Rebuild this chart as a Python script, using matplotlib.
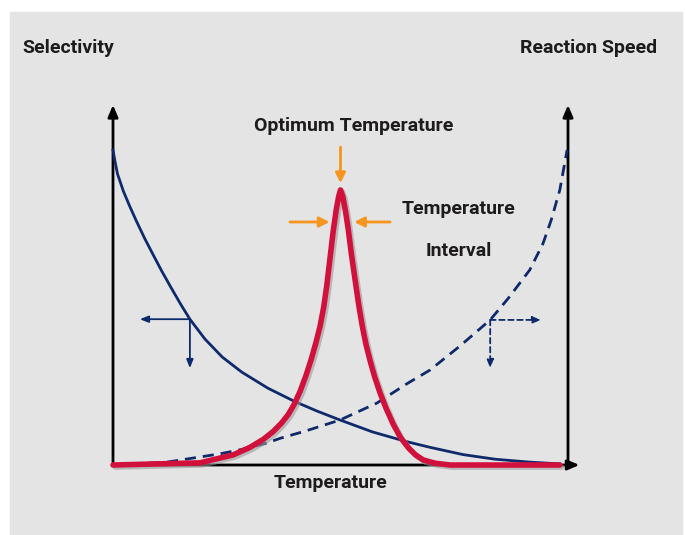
import matplotlib
matplotlib.use("Agg")
import matplotlib.pyplot as plt
import matplotlib.patheffects as pe
from matplotlib.patches import Rectangle

# curves, temperature 0-100 on x, 0-100 on y
sel_x = [0, 0.4, 1.0, 2.3, 3.7, 5.2, 6.9, 8.7, 10.7, 12.7, 14.9, 16.9, 20.2, 24.0,
         28.3, 34.1, 40.0, 44.8, 49.9, 57.0, 64.5, 69.7, 76.9, 84.0, 91.6, 98.2]
sel_y = [87.5, 84.6, 80.8, 76.0, 71.8, 67.6, 63.1, 58.7, 53.9, 49.4, 44.6, 40.5,
         35.0, 30.0, 25.8, 21.3, 17.6, 15.0, 12.5, 9.2, 6.5, 4.9, 2.9, 1.6, 0.8, 0.3]

speed_x = [0, 11.9, 23.5, 29.0, 33.8, 36.7, 42.2, 49.9, 58.0, 64.5, 69.7, 76.3, 82.9,
           87.0, 91.6, 94.5, 96.3, 98.2, 99.8]
speed_y = [0, 0.8, 3.1, 4.5, 6.1, 7.4, 9.4, 12.5, 17.2, 22.5, 26.4, 33.1, 40.3,
           46.5, 54.2, 61.5, 68.0, 76.4, 87.5]

peak_x = [0, 19.1, 26.4, 30.1, 33.0, 35.2, 37.0, 38.5, 39.8, 41.1, 42.4, 43.6,
          44.6, 45.5, 46.3, 47.0, 47.7, 48.4, 49.1, 49.6, 50.0,
          50.5, 51.1, 51.7, 52.4, 53.2, 54.0, 54.8, 55.6, 56.5, 57.5, 58.7,
          60.0, 61.6, 63.2, 64.9, 66.5, 68.2, 70.8, 74.1, 98.2]
peak_y = [0, 0.6, 2.8, 4.9, 7.1, 9.3, 11.6, 14.0, 16.8, 20.4, 24.8, 29.5,
          34.0, 38.5, 43.8, 50.0, 57.5, 65.0, 71.2, 74.6, 76.4,
          74.6, 70.5, 65.5, 58.5, 51.5, 44.5, 38.5, 33.5, 29.0, 24.5, 20.0,
          15.8, 11.3, 7.6, 4.8, 2.8, 1.4, 0.5, 0, 0]

navy = "#0f2a6b"
red = "#d2103c"
orange = "#f7941d"
txt = "#1e1b1c"

fig = plt.figure(figsize=(6.85, 5.35), dpi=100, facecolor="white")
bg = Rectangle((10 / 685, 0), 672 / 685, 523 / 535,
               transform=fig.transFigure, color="#e4e4e4", zorder=-5)
fig.patches.append(bg)

ax = fig.add_axes([113 / 685, 70 / 535, 455 / 685, 360 / 535])
ax.set_facecolor("none")
ax.set_xlim(0, 100)
ax.set_ylim(0, 100)
ax.set_xticks([])
ax.set_yticks([])
for s in ax.spines.values():
    s.set_visible(False)

# axes with arrow heads
ak = dict(arrowstyle="-|>,head_length=0.7,head_width=0.3", color="black", lw=2,
          shrinkA=0, shrinkB=0)
ax.annotate("", xy=(0, 100), xytext=(0, 0), arrowprops=ak, annotation_clip=False)
ax.annotate("", xy=(100, 100), xytext=(100, 0), arrowprops=ak, annotation_clip=False)
ax.annotate("", xy=(102.5, 0), xytext=(0, 0), arrowprops=ak, annotation_clip=False)

# curves
ax.plot(sel_x, sel_y, color=navy, lw=2, clip_on=False, zorder=3, solid_joinstyle="round")
ax.plot(speed_x, speed_y, color=navy, lw=2, ls=(0, (4, 2.5)), clip_on=False, zorder=3)
ax.plot(peak_x, peak_y, color=red, lw=4, clip_on=False, zorder=4,
        solid_joinstyle="round", solid_capstyle="round",
        path_effects=[pe.SimpleLineShadow(offset=(1.5, -1.5), shadow_color="#999999", alpha=0.6),
                      pe.Normal()])

# small direction arrows
sa = dict(arrowstyle="-|>,head_length=0.5,head_width=0.2", color=navy, lw=1.3,
          shrinkA=0, shrinkB=0)
ax.annotate("", xy=(5.9, 40.5), xytext=(16.9, 40.5), arrowprops=sa)
ax.annotate("", xy=(16.9, 26.9), xytext=(16.9, 40.5), arrowprops=sa)
sd = dict(sa, ls=(0, (3, 2)))
ax.annotate("", xy=(94.1, 40.3), xytext=(82.9, 40.3), arrowprops=sd)
ax.annotate("", xy=(82.9, 26.9), xytext=(82.9, 40.3), arrowprops=sd)

# orange markers
oa = dict(arrowstyle="-|>,head_length=0.6,head_width=0.3", color=orange, lw=2,
          shrinkA=0, shrinkB=0)
ax.annotate("", xy=(50.0, 78.3), xytext=(50.0, 88.3), arrowprops=oa)
ax.annotate("", xy=(47.6, 67.5), xytext=(38.9, 67.5), arrowprops=oa)
ax.annotate("", xy=(53.0, 67.5), xytext=(60.9, 67.5), arrowprops=oa)

font = dict(family="Roboto", weight="bold", color=txt, fontsize=14, clip_on=False)
ax.text(-20.0, 115.8, "Selectivity", ha="left", va="center", **font)
ax.text(119.6, 115.8, "Reaction Speed", ha="right", va="center", **font)
ax.text(53.0, 94.2, "Optimum Temperature", ha="center", va="center", **font)
ax.text(76.0, 71.0, "Temperature", ha="center", va="center", **font)
ax.text(76.0, 59.4, "Interval", ha="center", va="center", **font)
ax.text(47.7, -5.0, "Temperature", ha="center", va="center", **font)

fig.savefig("out.png", dpi=100, facecolor="white")
